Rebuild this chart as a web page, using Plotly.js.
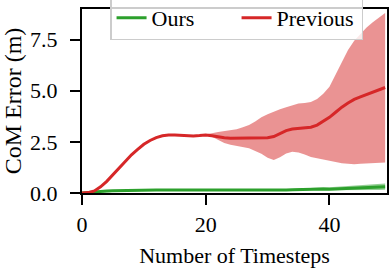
<!DOCTYPE html>
<html>
<head>
<meta charset="utf-8">
<script src="https://cdn.plot.ly/plotly-3.0.1.min.js"></script>
<style>
html,body{margin:0;padding:0;background:#fff;}
</style>
</head>
<body>
<div id="chart"></div>
<script>
const timesteps = [0,1,2,3,4,5,6,7,8,9,10,11,12,13,14,15,16,17,18,19,20,21,22,23,24,25,26,27,28,29,30,31,32,33,34,35,36,37,38,39,40,41,42,43,44,45,46,47,48,49];

const oursMean  = [0.00,0.03,0.06,0.08,0.10,0.11,0.12,0.13,0.13,0.14,0.14,0.15,0.15,0.15,0.15,0.14,0.14,0.13,0.13,0.12,0.12,0.13,0.13,0.14,0.14,0.14,0.13,0.13,0.13,0.13,0.13,0.13,0.14,0.15,0.16,0.17,0.18,0.20,0.20,0.19,0.18,0.19,0.20,0.21,0.22,0.24,0.26,0.28,0.29,0.30];
const oursUpper = [0.00,0.05,0.09,0.11,0.13,0.14,0.15,0.16,0.16,0.17,0.17,0.18,0.18,0.18,0.18,0.17,0.17,0.16,0.16,0.15,0.15,0.16,0.16,0.17,0.17,0.17,0.16,0.16,0.16,0.16,0.17,0.17,0.18,0.19,0.20,0.22,0.24,0.27,0.28,0.28,0.28,0.30,0.33,0.36,0.38,0.41,0.43,0.45,0.46,0.46];
const oursLower = [0.00,0.01,0.03,0.05,0.07,0.08,0.09,0.10,0.10,0.11,0.11,0.12,0.12,0.12,0.12,0.11,0.11,0.10,0.10,0.09,0.09,0.10,0.10,0.11,0.11,0.11,0.10,0.10,0.10,0.10,0.10,0.10,0.10,0.11,0.12,0.12,0.12,0.13,0.13,0.12,0.12,0.12,0.13,0.13,0.14,0.14,0.15,0.15,0.15,0.16];

const prevMean  = [0.00,0.02,0.10,0.30,0.57,0.90,1.25,1.58,1.87,2.13,2.38,2.57,2.71,2.80,2.84,2.84,2.82,2.80,2.79,2.81,2.84,2.80,2.74,2.70,2.68,2.68,2.68,2.69,2.70,2.70,2.70,2.76,2.92,3.05,3.13,3.17,3.19,3.22,3.32,3.50,3.70,3.95,4.20,4.40,4.58,4.70,4.82,4.95,5.07,5.16];
const prevUpper = [0.00,0.03,0.12,0.32,0.59,0.92,1.27,1.60,1.89,2.15,2.40,2.59,2.73,2.82,2.86,2.86,2.84,2.82,2.81,2.83,2.86,2.92,2.98,3.02,3.05,3.12,3.22,3.33,3.50,3.70,3.85,3.98,4.10,4.20,4.30,4.38,4.40,4.45,4.60,4.85,5.20,5.80,6.45,7.00,7.45,7.80,8.10,8.35,8.58,8.80];
const prevLower = [0.00,0.01,0.08,0.28,0.55,0.88,1.23,1.56,1.85,2.11,2.36,2.55,2.69,2.78,2.82,2.82,2.80,2.78,2.77,2.79,2.82,2.75,2.60,2.45,2.36,2.30,2.25,2.19,2.05,1.92,1.72,1.62,1.75,1.93,2.02,1.98,1.88,1.76,1.70,1.65,1.59,1.52,1.46,1.42,1.41,1.43,1.45,1.47,1.48,1.49];

const seriesNames = ['Ours', 'Previous'];
const xTicks = [0, 20, 40];
const yTicks = [0, 2.5, 5, 7.5];
const yTickText = ['0.0', '2.5', '5.0', '7.5'];

const GREEN = '#2ca02c', RED = '#d62728';
const FONT = 'Liberation Serif';

function band(x, lo, hi, fill) {
  return [
    {x: x, y: lo, type: 'scatter', mode: 'lines', line: {width: 0}, showlegend: false, hoverinfo: 'skip'},
    {x: x, y: hi, type: 'scatter', mode: 'lines', line: {width: 0}, fill: 'tonexty', fillcolor: fill, showlegend: false, hoverinfo: 'skip'}
  ];
}

const data = [
  ...band(timesteps, oursLower, oursUpper, 'rgba(44,160,44,0.5)'),
  {x: timesteps, y: oursMean, type: 'scatter', mode: 'lines', name: seriesNames[0], line: {color: GREEN, width: 3}},
  ...band(timesteps, prevLower, prevUpper, 'rgba(214,39,40,0.5)'),
  {x: timesteps, y: prevMean, type: 'scatter', mode: 'lines', name: seriesNames[1], line: {color: RED, width: 3}}
];

const layout = {
  width: 391, height: 268,
  margin: {l: 82, r: 4, t: 9, b: 75, autoexpand: false},
  paper_bgcolor: '#fff', plot_bgcolor: '#fff',
  showlegend: true,
  legend: {
    orientation: 'h', traceorder: 'normal',
    x: 0.092, xanchor: 'left',
    y: 1.074, yanchor: 'top',
    entrywidth: 80,
    bgcolor: 'rgba(255,255,255,0.8)', bordercolor: '#cccccc', borderwidth: 1.5,
    font: {family: FONT, size: 22, color: '#000'}
  },
  xaxis: {
    showgrid: false, zeroline: false,
    showline: true, linecolor: '#000', linewidth: 2, mirror: true,
    ticks: 'outside', ticklen: 10, tickwidth: 2, tickcolor: '#000',
    tickfont: {family: FONT, size: 22, color: '#000'},
    range: [0, 49.3], tickvals: xTicks, ticklabelstandoff: 1,
    title: {text: 'Number of Timesteps', font: {family: FONT, size: 22, color: '#000'}, standoff: 14}
  },
  yaxis: {
    showgrid: false, zeroline: false,
    showline: true, linecolor: '#000', linewidth: 2, mirror: true,
    ticks: 'outside', ticklen: 10, tickwidth: 2, tickcolor: '#000',
    tickfont: {family: FONT, size: 22, color: '#000'},
    range: [0, 9], tickvals: yTicks, ticktext: yTickText, ticklabelstandoff: 8,
    title: {text: 'CoM Error (m)', font: {family: FONT, size: 24, color: '#000'}, standoff: 6}
  }
};

Plotly.newPlot('chart', data, layout, {displayModeBar: false, staticPlot: true});
</script>
</body>
</html>
